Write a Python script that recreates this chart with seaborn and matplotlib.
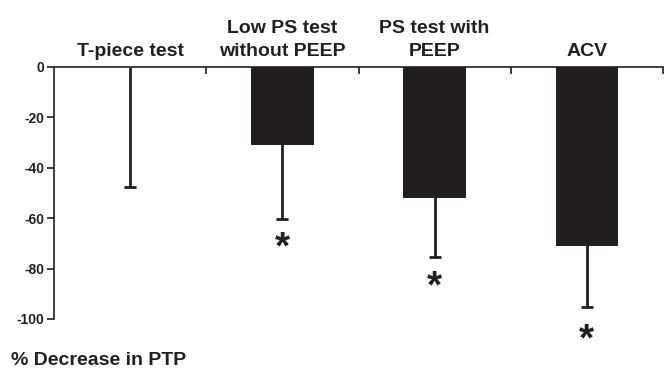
import numpy as np
import pandas as pd
import seaborn as sns
import matplotlib
matplotlib.use("Agg")
from matplotlib import pyplot as plt
from matplotlib.ticker import FixedLocator

# values
categories = ["T-piece test", "Low PS test\nwithout PEEP", "PS test with\nPEEP", "ACV"]
decrease = [0, -31, -52, -71]          # mean % decrease in PTP
err_down = [47.5, 29.3, 23.4, 24.2]    # one-sided (downward) error
star_y = [None, -68.7, -84, -105]      # where the '*' marks sit
yticks = [0, -20, -40, -60, -80, -100]

ink = "#231f20"

sns.set_theme(style="white")
plt.rcParams["font.family"] = ["Liberation Sans", "DejaVu Sans"]
plt.rcParams["font.weight"] = "bold"
plt.rcParams["axes.unicode_minus"] = False

df = pd.DataFrame({"cat": categories, "val": decrease})

fig = plt.figure(figsize=(6.64, 3.68), dpi=100)
ax = fig.add_axes([54 / 664, 1 - 319 / 368, 609 / 664, 252 / 368])

sns.barplot(data=df, x="cat", y="val", color=ink, saturation=1,
            width=0.41, errorbar=None, ax=ax, zorder=2,
            edgecolor=ink, linewidth=0)

# error stems run up behind the bars so they join them without a gap
x = np.arange(len(categories))
up = [-v for v in decrease]
eb = ax.errorbar(x, decrease, yerr=[err_down, up], fmt="none",
                 ecolor=ink, elinewidth=2, capsize=4, capthick=2, zorder=1,
                 clip_on=False)
# only the lower cap is drawn in the original
eb[1][1].set_visible(False)

# significance stars below the error bars
# (the glyph sits high in its box, so nudge it down a bit)
for xi, sy in zip(x, star_y):
    if sy is not None:
        ax.text(xi, sy - 3.5, "*", ha="center", va="center",
                fontsize=28, fontweight="bold", color=ink, clip_on=False)

ax.set_xlim(-0.5, len(categories) - 0.5)
ax.set_ylim(-100, 0)
ax.set_yticks(yticks)
ax.set_yticklabels([str(t) for t in yticks], fontsize=10, fontweight="bold", color=ink)

# category labels above the zero line
ax.xaxis.set_ticks_position("top")
ax.xaxis.set_label_position("top")
ax.set_xticks(x)
ax.set_xticklabels(categories, fontsize=14, fontweight="bold", color=ink,
                   linespacing=1.5)
ax.xaxis.set_minor_locator(FixedLocator(list(x + 0.5)))
ax.tick_params(axis="x", which="major", length=0, pad=5)
ax.tick_params(axis="x", which="minor", direction="in", length=5, width=1.2,
               color=ink, top=True)
ax.tick_params(axis="y", which="major", direction="out", length=5, width=1.2,
               color=ink, left=True, pad=2)

ax.set_xlabel("")
ax.set_ylabel("")
for side in ["right", "bottom"]:
    ax.spines[side].set_visible(False)
for side in ["left", "top"]:
    ax.spines[side].set_color(ink)
    ax.spines[side].set_linewidth(1.2)

fig.text(11 / 664, 1 - 365 / 368, "% Decrease in PTP", fontsize=14,
         fontweight="bold", color=ink, ha="left", va="baseline")

fig.savefig("out.png", dpi=100)
